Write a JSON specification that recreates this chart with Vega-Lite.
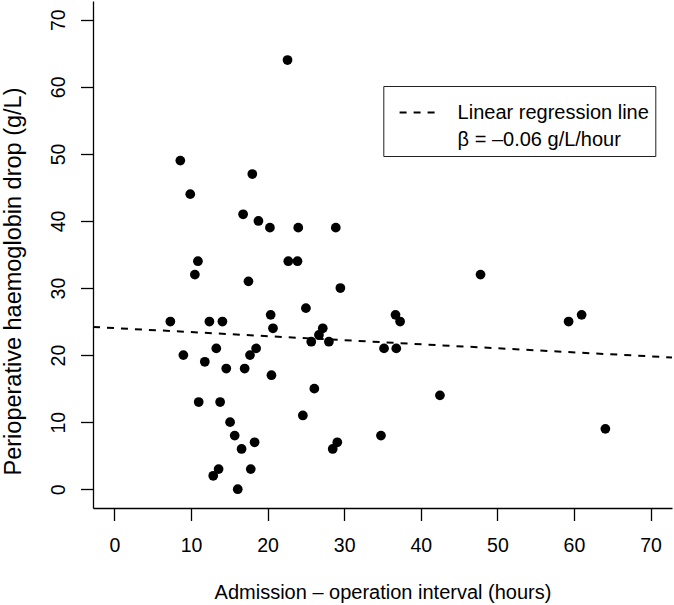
{
  "$schema": "https://vega.github.io/schema/vega-lite/v6.json",
  "width": 579,
  "height": 507,
  "autosize": {"type": "none"},
  "padding": {"left": 93, "top": 1, "right": 2, "bottom": 97},
  "background": "white",
  "config": {
    "view": {"stroke": null},
    "font": "Liberation Sans",
    "style": {"guide-label": {"lineHeight": 27}}
  },
  "datasets": {
    "patients": [
      {"interval": 22.6, "drop": 64}, {"interval": 8.6, "drop": 49}, {"interval": 18.0, "drop": 47},
      {"interval": 9.9, "drop": 44}, {"interval": 16.8, "drop": 41}, {"interval": 18.8, "drop": 40},
      {"interval": 20.3, "drop": 39}, {"interval": 24.0, "drop": 39}, {"interval": 28.9, "drop": 39},
      {"interval": 10.9, "drop": 34}, {"interval": 22.7, "drop": 34}, {"interval": 23.9, "drop": 34},
      {"interval": 10.5, "drop": 32}, {"interval": 17.5, "drop": 31}, {"interval": 29.5, "drop": 30},
      {"interval": 25.0, "drop": 27}, {"interval": 7.3, "drop": 25}, {"interval": 12.4, "drop": 25},
      {"interval": 14.1, "drop": 25}, {"interval": 20.4, "drop": 26}, {"interval": 20.7, "drop": 24},
      {"interval": 36.7, "drop": 26}, {"interval": 37.3, "drop": 25}, {"interval": 27.2, "drop": 24},
      {"interval": 26.7, "drop": 23}, {"interval": 25.7, "drop": 22}, {"interval": 28.0, "drop": 22},
      {"interval": 35.2, "drop": 21}, {"interval": 36.8, "drop": 21}, {"interval": 9.0, "drop": 20},
      {"interval": 13.3, "drop": 21}, {"interval": 11.8, "drop": 19}, {"interval": 14.6, "drop": 18},
      {"interval": 17.0, "drop": 18}, {"interval": 17.7, "drop": 20}, {"interval": 18.5, "drop": 21},
      {"interval": 20.5, "drop": 17}, {"interval": 26.1, "drop": 15}, {"interval": 11.0, "drop": 13},
      {"interval": 13.8, "drop": 13}, {"interval": 24.6, "drop": 11}, {"interval": 15.1, "drop": 10},
      {"interval": 15.7, "drop": 8}, {"interval": 16.6, "drop": 6}, {"interval": 18.3, "drop": 7},
      {"interval": 29.1, "drop": 7}, {"interval": 28.5, "drop": 6}, {"interval": 34.8, "drop": 8},
      {"interval": 13.6, "drop": 3}, {"interval": 12.9, "drop": 2}, {"interval": 17.8, "drop": 3},
      {"interval": 16.1, "drop": 0}, {"interval": 47.8, "drop": 32}, {"interval": 59.3, "drop": 25},
      {"interval": 61.0, "drop": 26}, {"interval": 42.5, "drop": 14}, {"interval": 64.1, "drop": 9}
    ],
    "fit": [
      {"interval": -2.8, "drop": 24.2, "series": "Linear regression line"},
      {"interval": 72.8, "drop": 19.64, "series": "Linear regression line"}
    ]
  },
  "encoding": {
    "x": {
      "field": "interval",
      "type": "quantitative",
      "scale": {"domain": [-2.8, 72.8], "nice": false, "zero": false},
      "axis": {
        "values": [0, 10, 20, 30, 40, 50, 60, 70],
        "title": "Admission – operation interval (hours)",
        "grid": false,
        "domain": true,
        "domainColor": "#000",
        "domainWidth": 1.3,
        "tickColor": "#000",
        "tickWidth": 1.3,
        "tickSize": 12.5,
        "labelFont": "Liberation Sans",
        "labelFontSize": 19.5,
        "labelColor": "#000",
        "labelPadding": 16,
        "labelFlush": false,
        "labelOverlap": false,
        "titleFont": "Liberation Sans",
        "titleFontSize": 20,
        "titleFontWeight": "normal",
        "titleColor": "#000",
        "titleY": 90.5,
        "titleBaseline": "alphabetic"
      }
    },
    "y": {
      "field": "drop",
      "type": "quantitative",
      "scale": {"domain": [-2.8, 72.8], "nice": false, "zero": false},
      "axis": {
        "values": [0, 10, 20, 30, 40, 50, 60, 70],
        "title": "Perioperative haemoglobin drop (g/L)",
        "grid": false,
        "domain": true,
        "domainColor": "#000",
        "domainWidth": 1.3,
        "tickColor": "#000",
        "tickWidth": 1.3,
        "tickSize": 12.5,
        "labelFont": "Liberation Sans",
        "labelFontSize": 19.5,
        "labelColor": "#000",
        "labelAngle": 270,
        "labelAlign": "center",
        "labelBaseline": "alphabetic",
        "labelPadding": 16.5,
        "labelFlush": false,
        "labelOverlap": false,
        "titleFont": "Liberation Sans",
        "titleFontSize": 23.5,
        "titleFontWeight": "normal",
        "titleColor": "#000",
        "titleAngle": 270,
        "titleAlign": "center",
        "titleBaseline": "alphabetic",
        "titleX": -73,
        "titleY": 280
      }
    }
  },
  "layer": [
    {
      "data": {"name": "patients"},
      "mark": {"type": "circle", "size": 95, "color": "#000", "opacity": 1}
    },
    {
      "data": {"name": "fit"},
      "mark": {"type": "line", "color": "#000", "strokeWidth": 2, "clip": true},
      "encoding": {
        "strokeDash": {
          "field": "series",
          "type": "nominal",
          "scale": {"range": [[7, 7]]},
          "legend": {
            "title": null,
            "orient": "none",
            "legendX": 290.3,
            "legendY": 85,
            "strokeColor": "#222",
            "padding": 6,
            "symbolType": "stroke",
            "symbolSize": 1521,
            "symbolStrokeWidth": 2,
            "symbolStrokeColor": "#000",
            "symbolOffset": 9.3,
            "labelFont": "Liberation Sans",
            "labelFontSize": 20,
            "labelColor": "#000",
            "labelOffset": 18,
            "labelLimit": 500,
            "labelExpr": "['Linear regression line', 'β = –0.06 g/L/hour']"
          }
        }
      }
    }
  ]
}
